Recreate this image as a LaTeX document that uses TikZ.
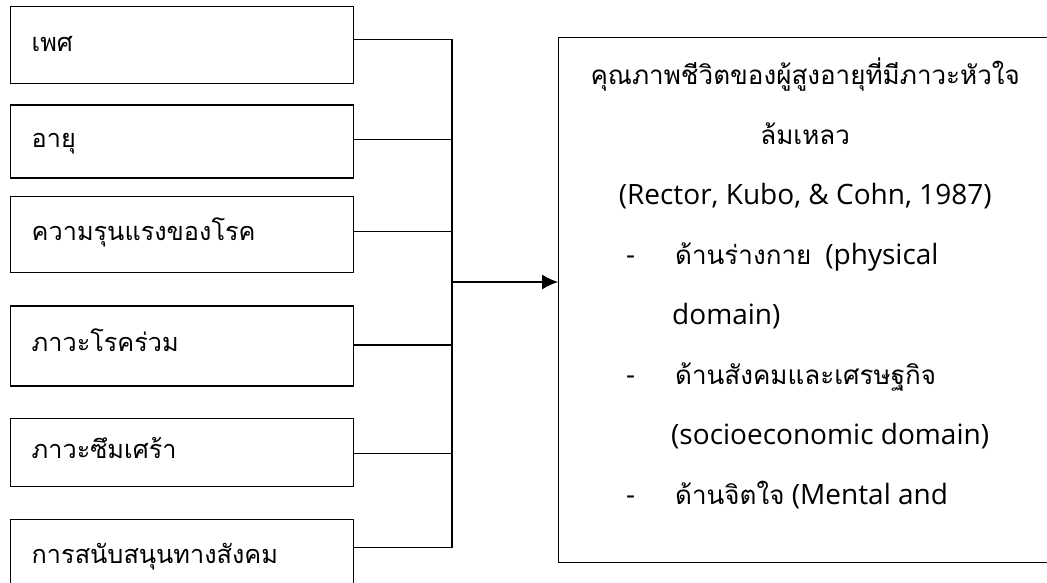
\documentclass[tikz,border=0pt]{standalone}
\usepackage{fontspec}
\setmainfont{Open Sans}
\newfontfamily\thaifont[Script=Thai,Scale=0.929]{Loma}
\usepackage{tikz}
\usetikzlibrary{positioning, calc, arrows.meta}

\begin{document}
\begin{tikzpicture}[x=1pt, y=-1pt,
  factor/.style={rectangle, draw, line width=1.4pt, text width=301pt, inner xsep=21pt, inner ysep=0pt, minimum height=#1, align=left, text height=18pt, text depth=6pt, font=\thaifont\fontsize{27.2}{30}\selectfont},
  link/.style={line width=1.2pt}]

\useasboundingbox (0,0) rectangle (1047,582);

% Factors

\node [factor=77pt, anchor=north west] (sex) at (10,6) {เพศ};
\node [factor=73pt, below=20pt of sex] (age) {อายุ};
\node [factor=76pt, below=17pt of age] (severity) {ความรุนแรงของโรค};
\node [factor=80pt, below=32pt of severity] (comorbidity) {ภาวะโรคร่วม};
\node [factor=68pt, below=31pt of comorbidity] (depression) {ภาวะซึมเศร้า};
\node [factor=76pt, below=32pt of depression] (support) {การสนับสนุนทางสังคม};

% Quality of life

\node [draw, line width=1.4pt, anchor=north west, minimum width=560pt, minimum height=525pt] (qol) at (558,37) {};
\node [anchor=north west, inner sep=0pt, align=left, font=\fontsize{28}{60}\selectfont] (qoltext) at (592,54)
{\rule{0pt}{30pt}\makebox[426pt][c]{\thaifont คุณภาพชีวิตของผู้สูงอายุที่มีภาวะหัวใจ}\\
\makebox[426pt][c]{\thaifont ล้มเหลว}\\
\makebox[426pt][c]{(Rector, Kubo, \& Cohn, 1987)}\\
\makebox[83pt][l]{\hspace*{34pt}-}{\thaifont ด้านร่างกาย}\hspace*{.5em}(physical\\
\hspace*{80pt}domain)\\
\makebox[83pt][l]{\hspace*{34pt}-}{\thaifont ด้านสังคมและเศรษฐกิจ}\\
\hspace*{79pt}(socioeconomic domain)\\
\makebox[83pt][l]{\hspace*{34pt}-}{\thaifont ด้านจิตใจ} (Mental and};

% Links

\coordinate (bus) at (452,282);

\draw[link] ($(sex.east)+(0,-6)$) coordinate (sex link) -- (sex link -| bus);
\draw[link] ($(age.east)+(0,-2.5)$) coordinate (age link) -- (age link -| bus);
\draw[link] ($(severity.east)+(0,-3)$) coordinate (severity link) -- (severity link -| bus);
\draw[link] ($(comorbidity.east)+(0,-1)$) coordinate (comorbidity link) -- (comorbidity link -| bus);
\draw[link] ($(depression.east)+(0,1)$) coordinate (depression link) -- (depression link -| bus);
\draw[link] ($(support.east)+(0,-10)$) coordinate (support link) -- (support link -| bus);

\draw[link] (sex link -| bus) -- (support link -| bus);
\draw[link, -{Latex[length=16pt, width=15pt]}] (bus) -- (bus -| qol.west);

\end{tikzpicture}
\end{document}
